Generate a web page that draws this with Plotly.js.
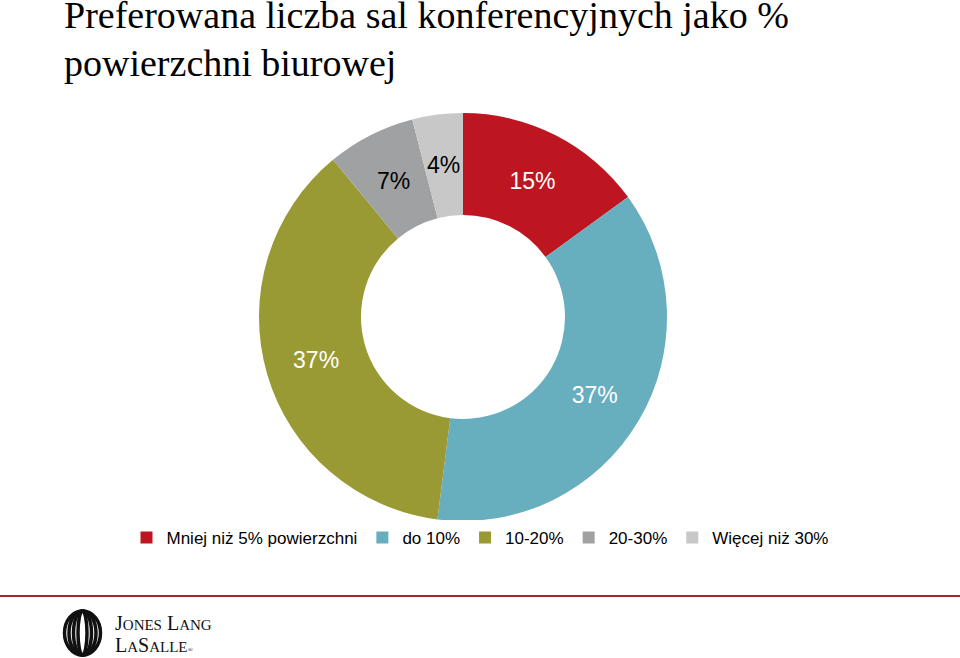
<!DOCTYPE html>
<html>
<head>
<meta charset="utf-8">
<script src="https://cdn.plot.ly/plotly-3.0.1.min.js"></script>
<style>html,body{margin:0;padding:0;background:#fff;}#chart{width:960px;height:658px;}</style>
</head>
<body>
<div id="chart"></div>
<script>
const categories = ["Mniej niż 5% powierzchni", "do 10%", "10-20%", "20-30%", "Więcej niż 30%"];
const values = [15, 37, 37, 7, 4];
const sliceColors = ["#BE1620", "#67AEBF", "#9A9A34", "#A0A1A3", "#C8C8C8"];
const labelColors = ["#FFFFFF", "#FFFFFF", "#FFFFFF", "#000000", "#000000"];
const titleLines = ["Preferowana liczba sal konferencyjnych jako %", "powierzchni biurowej"];

const W = 960, H = 658;
const px = x => x / W;
const py = y => 1 - y / H;
const sans = "Liberation Sans, Arial, sans-serif";
const serif = "Liberation Serif, Times New Roman, serif";
const labelSize = 23;

// pie geometry (pixels)
const cx = 463, cy = 317, rOut = 204, holeFrac = 0.5;
const rMid = rOut * (1 + holeFrac) / 2;
const total = values.reduce((a, b) => a + b, 0);
// small slices get their labels as annotations at the slice mid-angle (Plotly pushes them outward)
const smallIdx = values.map((v, i) => v / total < 0.1 ? i : -1).filter(i => i >= 0);

const trace = {
  type: "pie",
  labels: categories,
  values: values,
  hole: holeFrac,
  sort: false,
  direction: "clockwise",
  rotation: 0,
  marker: {colors: sliceColors, line: {width: 0}},
  texttemplate: values.map((v, i) => smallIdx.includes(i) ? "" : "%{value}%"),
  textposition: "inside",
  insidetextorientation: "horizontal",
  textfont: {family: sans, size: labelSize, color: labelColors},
  hoverinfo: "label+percent",
  domain: {x: [px(cx - rOut), px(cx + rOut)], y: [py(cy + rOut), py(cy - rOut)]}
};

const annotations = [];
let cum = 0;
values.forEach((v, i) => {
  const mid = (cum + v / 2) / total * 2 * Math.PI;
  cum += v;
  if (!smallIdx.includes(i)) return;
  const x = cx + rMid * Math.sin(mid), y = cy - rMid * Math.cos(mid);
  annotations.push({xref: "paper", yref: "paper", x: px(x), y: py(y), xanchor: "center", yanchor: "middle",
    showarrow: false, text: v + "%", font: {family: sans, size: labelSize, color: labelColors[i]}});
});

titleLines.forEach((t, i) => annotations.push({
  xref: "paper", yref: "paper", x: px(62), y: py(15 + i * 48),
  xanchor: "left", yanchor: "middle", showarrow: false, text: t,
  font: {family: serif, size: 38, color: "#000"}
}));

annotations.push(
  {xref: "paper", yref: "paper", x: px(113), y: py(623), xanchor: "left", yanchor: "middle", showarrow: false,
   text: "J<span style=\"font-size:15px\">ONES</span> L<span style=\"font-size:15px\">ANG</span>",
   font: {family: serif, size: 20, color: "#111"}},
  {xref: "paper", yref: "paper", x: px(113), y: py(645), xanchor: "left", yanchor: "middle", showarrow: false,
   text: "L<span style=\"font-size:15px\">A</span>S<span style=\"font-size:15px\">ALLE</span><span style=\"font-size:7px\">®</span>",
   font: {family: serif, size: 20, color: "#111"}}
);

const shapes = [
  {type: "line", xref: "paper", yref: "paper", x0: 0, x1: 1, y0: py(596), y1: py(596),
   line: {color: "#A3282C", width: 2}}
];
// logo rings
const ringCx = 82.5, ringCy = 633, ringH = 22;
[18, 13.5, 9, 4.5].forEach(rw => {
  shapes.push({type: "circle", xref: "paper", yref: "paper",
    x0: px(ringCx - rw), x1: px(ringCx + rw), y0: py(ringCy + ringH), y1: py(ringCy - ringH),
    line: {color: "#111", width: 3.5}});
});

const layout = {
  width: W, height: H,
  margin: {l: 0, r: 0, t: 0, b: 0},
  paper_bgcolor: "#fff",
  plot_bgcolor: "#fff",
  showlegend: true,
  legend: {
    orientation: "h",
    x: 0.5, xanchor: "center",
    y: py(538), yanchor: "middle",
    font: {family: sans, size: 17, color: "#000"},
    itemwidth: 30,
    traceorder: "normal"
  },
  shapes: shapes,
  annotations: annotations
};

Plotly.newPlot("chart", [trace], layout, {displayModeBar: false, staticPlot: true});
</script>
</body>
</html>
